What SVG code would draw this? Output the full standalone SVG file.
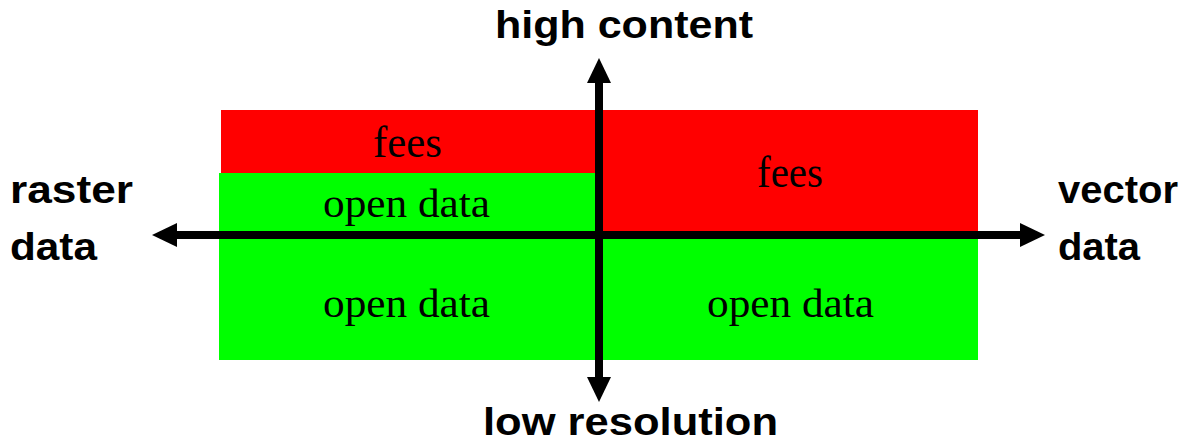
<svg xmlns="http://www.w3.org/2000/svg" width="1198" height="444" viewBox="0 0 1198 444">
<style>
.red{fill:#ff0000}
.green{fill:#00ff00}
.serif{font-family:"Liberation Serif","Times New Roman",serif;font-size:41px;fill:#000}
.big{font-size:45px}
.sans{font-family:"Liberation Sans",Arial,sans-serif;font-weight:bold;font-size:38px;fill:#000}
.axis{stroke:#000;stroke-width:8;fill:none}
.head{fill:#000}
</style>
<rect width="1198" height="444" fill="#fff"/>
<g id="left-fees">
<rect class="red" x="221" y="110" width="376" height="63"/>
<text class="serif big" x="373" y="157" textLength="69" lengthAdjust="spacingAndGlyphs">fees</text>
</g>
<g id="left-open-top">
<rect class="green" x="219" y="173" width="378" height="62"/>
<text class="serif" x="323" y="217" textLength="167" lengthAdjust="spacingAndGlyphs">open data</text>
</g>
<g id="left-open-bottom">
<rect class="green" x="219" y="235" width="378" height="125"/>
<text class="serif" x="323" y="317" textLength="167" lengthAdjust="spacingAndGlyphs">open data</text>
</g>
<g id="right-fees">
<rect class="red" x="601" y="110" width="377" height="125"/>
<text class="serif big" x="757" y="187" textLength="66" lengthAdjust="spacingAndGlyphs">fees</text>
</g>
<g id="right-open">
<rect class="green" x="601" y="235" width="377" height="125"/>
<text class="serif" x="707" y="317" textLength="167" lengthAdjust="spacingAndGlyphs">open data</text>
</g>
<g id="connectors">
<line class="axis" x1="172" y1="235" x2="1025" y2="235"/>
<polygon class="head" points="152,235 177,223 177,247"/>
<polygon class="head" points="1045,235 1020,223 1020,247"/>
<line class="axis" x1="599" y1="78" x2="599" y2="382"/>
<polygon class="head" points="599,58 587,83 611,83"/>
<polygon class="head" points="599,402 587,377 611,377"/>
</g>
<g id="label-high">
<text class="sans" x="495" y="38" textLength="258" lengthAdjust="spacingAndGlyphs">high content</text>
</g>
<g id="label-low">
<text class="sans" x="483" y="435" textLength="295" lengthAdjust="spacingAndGlyphs">low resolution</text>
</g>
<g id="label-raster">
<text class="sans" x="10" y="203" textLength="123" lengthAdjust="spacingAndGlyphs">raster</text>
<text class="sans" x="10" y="260" textLength="87" lengthAdjust="spacingAndGlyphs">data</text>
</g>
<g id="label-vector">
<text class="sans" x="1058" y="203" textLength="120" lengthAdjust="spacingAndGlyphs">vector</text>
<text class="sans" x="1058" y="260" textLength="82" lengthAdjust="spacingAndGlyphs">data</text>
</g>
</svg>
